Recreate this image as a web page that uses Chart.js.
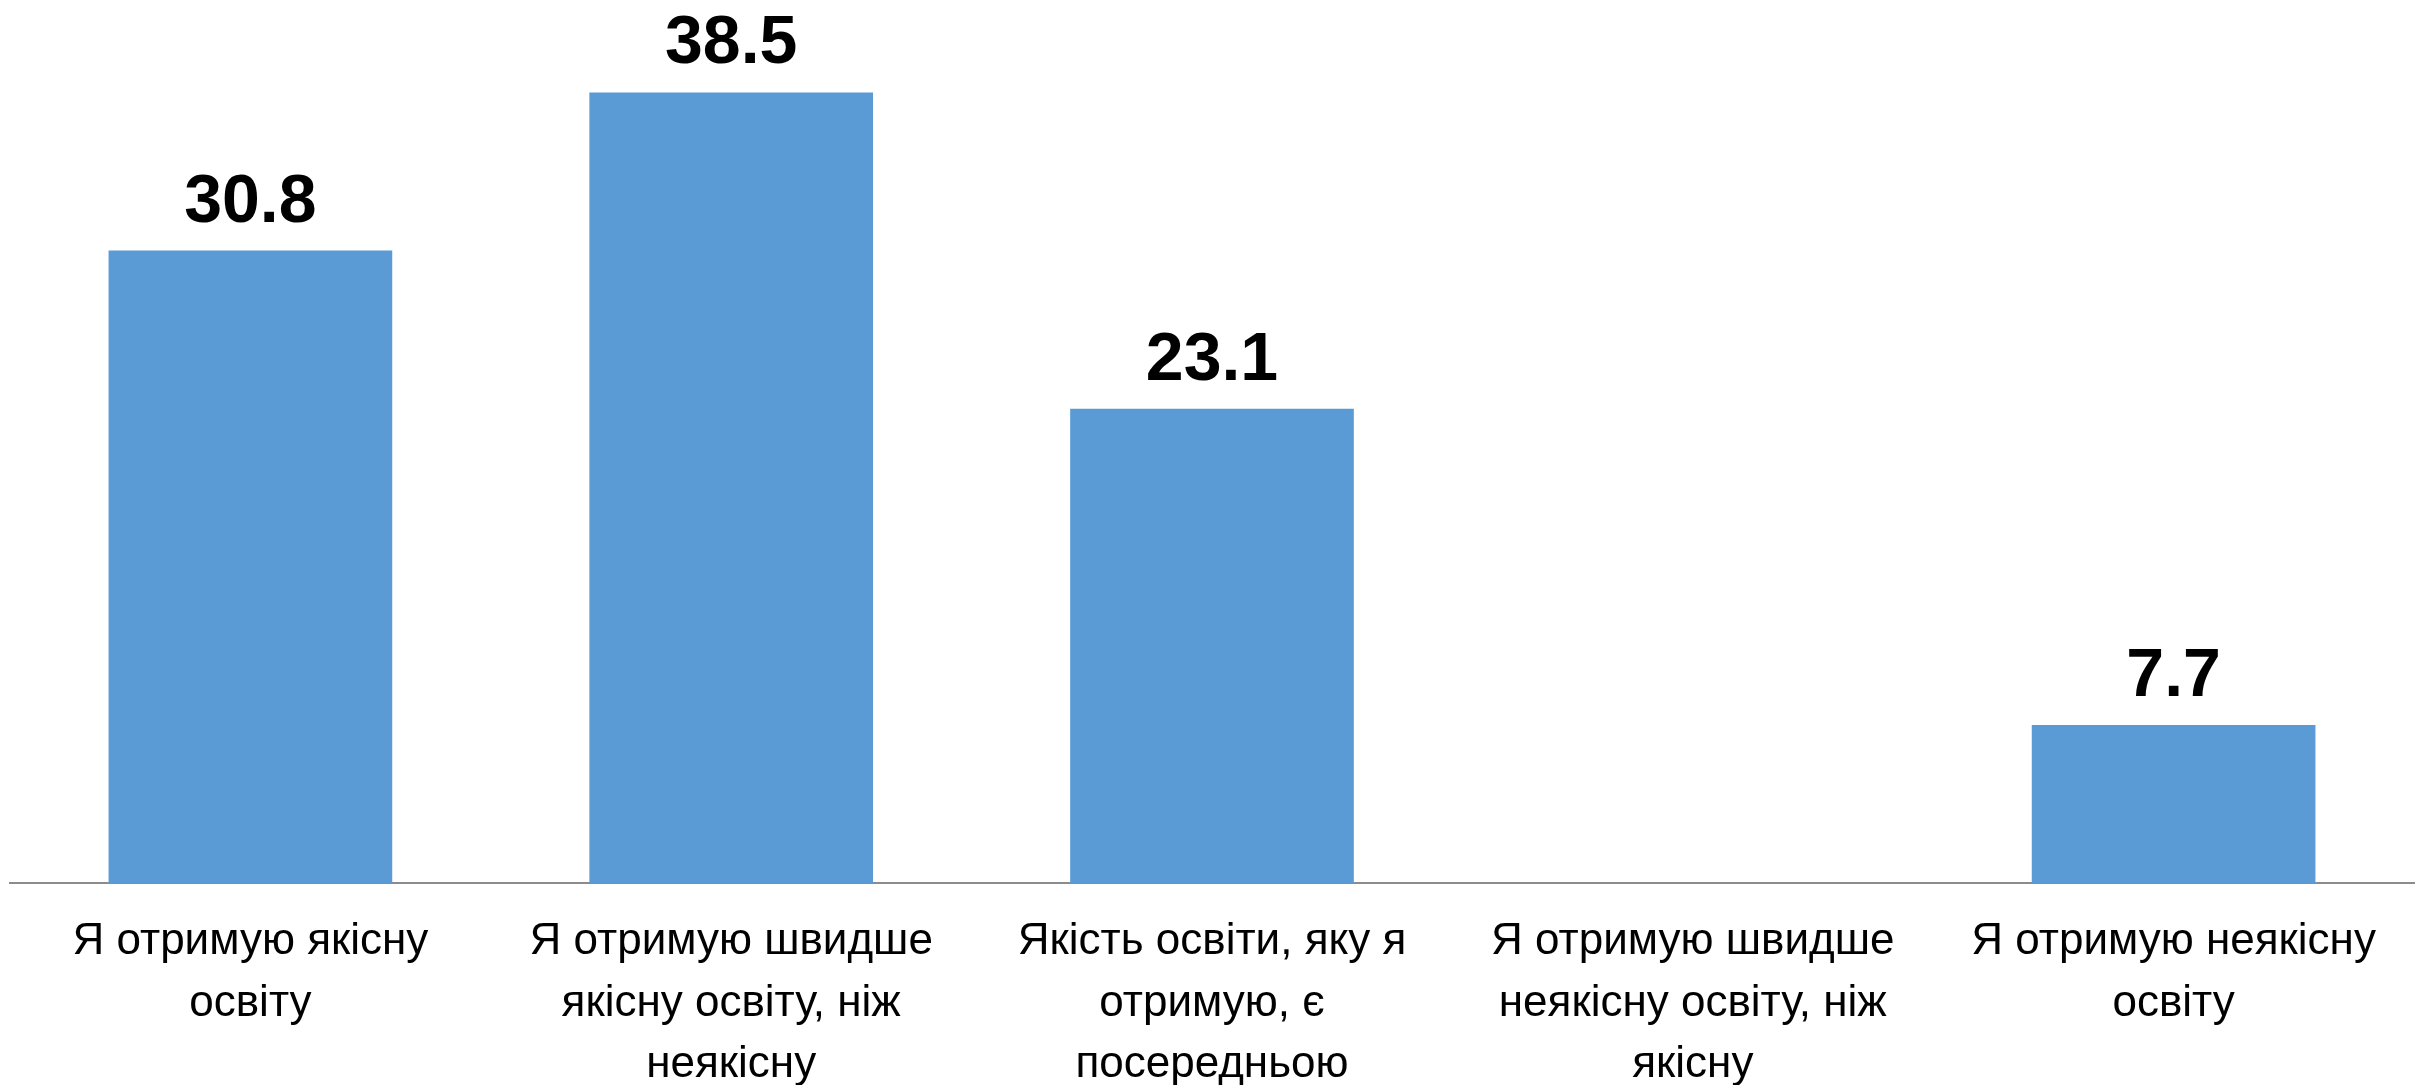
<!DOCTYPE html>
<html>
<head>
<meta charset="utf-8">
<script src="https://cdn.jsdelivr.net/npm/chart.js@4/dist/chart.umd.min.js"></script>
<style>
  html, body { margin: 0; padding: 0; background: #fff; }
  #wrap { width: 2428px; height: 1085px; position: relative; }
</style>
</head>
<body>
<div id="wrap"><canvas id="chart"></canvas></div>
<script>
// Категорії (підписи осі X, розбиті на рядки як в оригіналі)
const categories = [
    ['Я отримую якісну', 'освіту'],
    ['Я отримую швидше', 'якісну освіту, ніж', 'неякісну'],
    ['Якість освіти, яку я', 'отримую, є', 'посередньою'],
    ['Я отримую швидше', 'неякісну освіту, ніж', 'якісну'],
    ['Я отримую неякісну', 'освіту']
];
// Значення, %
const values = [30.8, 38.5, 23.1, null, 7.7];

// Підписи значень над стовпцями
const valueLabels = {
    id: 'valueLabels',
    afterDatasetsDraw(chart) {
        const ctx = chart.ctx;
        const meta = chart.getDatasetMeta(0);
        ctx.save();
        ctx.fillStyle = '#000';
        ctx.font = 'bold 68px "Liberation Sans", Arial, sans-serif';
        ctx.textAlign = 'center';
        ctx.textBaseline = 'alphabetic';
        meta.data.forEach((bar, i) => {
            if (values[i] === null) return;
            ctx.fillText(values[i].toFixed(1), bar.x, bar.y - 29);
        });
        ctx.restore();
    }
};

const ctx = document.getElementById('chart').getContext('2d');
new Chart(ctx, {
    type: 'bar',
    data: {
        labels: categories,
        datasets: [{
            data: values,
            backgroundColor: '#5B9BD5',
            borderWidth: 0,
            barPercentage: 0.59,
            categoryPercentage: 1.0
        }]
    },
    options: {
        responsive: true,
        maintainAspectRatio: false,
        animation: false,
        layout: { padding: { left: 10, right: 14, top: 0, bottom: 0 } },
        plugins: {
            legend: { display: false },
            tooltip: { enabled: false }
        },
        scales: {
            x: {
                grid: { display: false, drawTicks: false },
                border: { display: true, color: '#8c8c8c', width: 2 },
                ticks: {
                    color: '#000',
                    padding: 28,
                    maxRotation: 0,
                    autoSkip: false,
                    font: { family: '"Liberation Sans", Arial, sans-serif', size: 44, lineHeight: 1.4 }
                },
                afterFit(scale) { scale.height = 202; }
            },
            y: {
                display: false,
                min: 0,
                max: 43
            }
        }
    },
    plugins: [valueLabels]
});
</script>
</body>
</html>
